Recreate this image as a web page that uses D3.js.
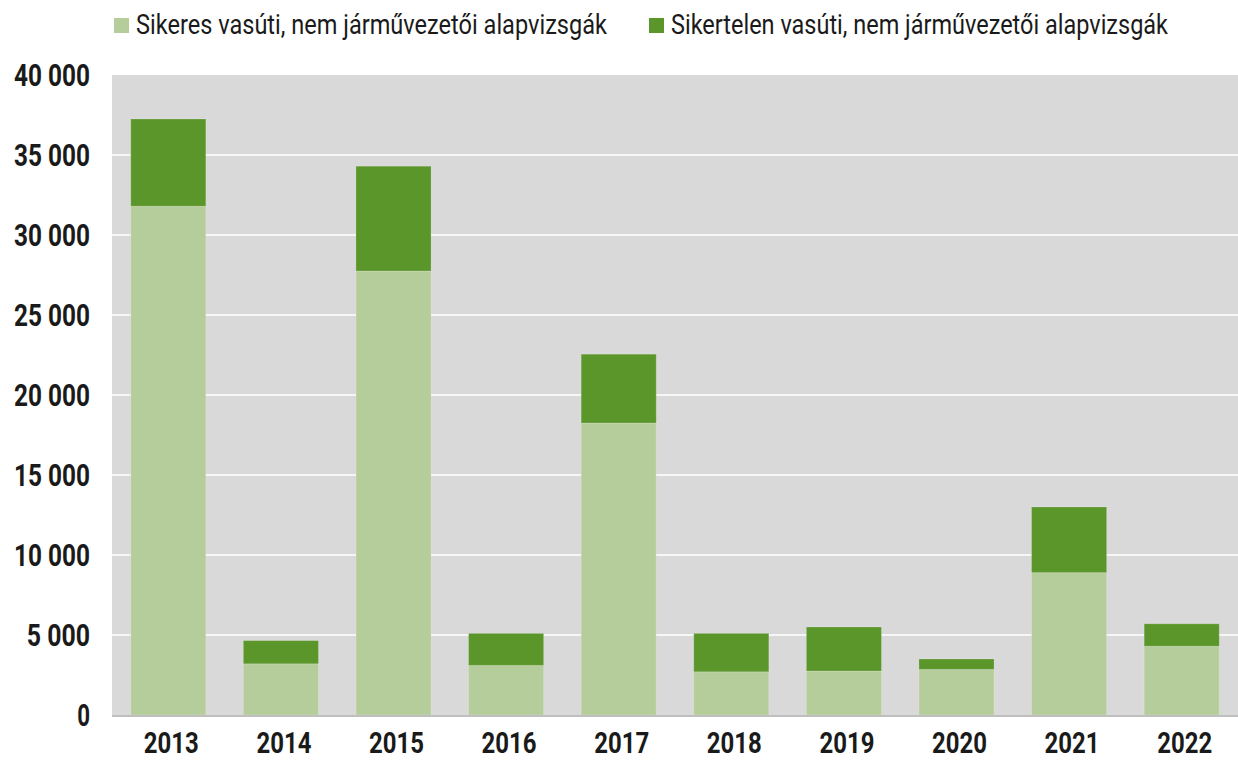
<!DOCTYPE html>
<html>
<head>
<meta charset="utf-8">
<script src="https://cdn.jsdelivr.net/npm/d3@7"></script>
<style>
  html, body { margin: 0; padding: 0; background: #ffffff; }
  svg { display: block; }
  text { font-family: "Roboto", "Liberation Sans", sans-serif; fill: #1a1a1a; }
</style>
</head>
<body>
<svg id="chart" width="1238" height="761"></svg>
<script>
// Railway non-driver basic exams, per year
const years = ["2013", "2014", "2015", "2016", "2017", "2018", "2019", "2020", "2021", "2022"];
const passed = [31800, 3200, 27750, 3100, 18250, 2700, 2750, 2850, 8900, 4300];
const failed = [5450, 1450, 6550, 2000, 4300, 2400, 2750, 650, 4100, 1400];
const seriesNames = ["Sikeres vasúti, nem járművezetői alapvizsgák", "Sikertelen vasúti, nem járművezetői alapvizsgák"];
const seriesColors = ["#b5cd9a", "#5b962b"];
const yTicks = [0, 5000, 10000, 15000, 20000, 25000, 30000, 35000, 40000];

const svg = d3.select("#chart");
const W = 1238, H = 761;
const margin = { left: 112, right: 0, top: 75, bottom: 46 };
const plotW = W - margin.left - margin.right;
const plotH = H - margin.top - margin.bottom;

const x = d3.scaleBand().domain(years).range([margin.left, margin.left + plotW])
  .paddingInner(1 / 3).paddingOuter(1 / 6);
const y = d3.scaleLinear().domain([0, 40000]).range([margin.top + plotH, margin.top]);

const fmt = v => d3.format(",")(v).replace(/,/g, " ");
// condensed face: squeeze glyphs to a narrow advance
const numWidth = s => s.split("").reduce((w, c) => w + (c === " " ? 12 : 12.8), 0);

// plot background
svg.append("rect")
  .attr("x", margin.left).attr("y", margin.top)
  .attr("width", plotW).attr("height", plotH)
  .attr("fill", "#d9d9d9");

// horizontal gridlines
svg.append("g")
  .selectAll("line")
  .data(yTicks.filter(d => d > 0 && d < 40000))
  .join("line")
  .attr("x1", margin.left).attr("x2", margin.left + plotW)
  .attr("y1", d => y(d)).attr("y2", d => y(d))
  .attr("stroke", "#ffffff").attr("stroke-width", 1.6);

// stacked bars
const rows = years.map((yr, i) => ({ year: yr, passed: passed[i], failed: failed[i] }));
const stack = d3.stack().keys(["passed", "failed"])(rows);

svg.append("g")
  .selectAll("g")
  .data(stack)
  .join("g")
  .attr("fill", (d, i) => seriesColors[i])
  .selectAll("rect")
  .data(d => d)
  .join("rect")
  .attr("x", d => x(d.data.year))
  .attr("width", x.bandwidth())
  .attr("y", d => y(d[1]))
  .attr("height", d => y(d[0]) - y(d[1]))
  .attr("stroke", "rgba(255,255,255,0.18)")
  .attr("stroke-width", 1);

// x-axis baseline
svg.append("line")
  .attr("x1", margin.left).attr("x2", margin.left + plotW)
  .attr("y1", y(0) + 1).attr("y2", y(0) + 1)
  .attr("stroke", "#bfbfbf").attr("stroke-width", 2);

// y tick labels
svg.append("g")
  .selectAll("text")
  .data(yTicks)
  .join("text")
  .attr("x", 90)
  .attr("y", d => y(d) + 11)
  .attr("text-anchor", "end")
  .attr("font-size", 31).attr("font-weight", "bold")
  .attr("textLength", d => numWidth(fmt(d)))
  .attr("lengthAdjust", "spacingAndGlyphs")
  .text(d => fmt(d));

// x tick labels
svg.append("g")
  .selectAll("text")
  .data(years)
  .join("text")
  .attr("x", d => x(d) + x.bandwidth() / 2 + 3)
  .attr("y", 753)
  .attr("text-anchor", "middle")
  .attr("font-size", 29).attr("font-weight", "bold")
  .attr("textLength", 55)
  .attr("lengthAdjust", "spacingAndGlyphs")
  .text(d => d);

// legend
const legendX = [114, 649];
const legendW = [471, 497];
const legend = svg.append("g")
  .selectAll("g")
  .data(seriesNames)
  .join("g")
  .attr("transform", (d, i) => `translate(${legendX[i]},18)`);
legend.append("rect")
  .attr("width", 15).attr("height", 15)
  .attr("fill", (d, i) => seriesColors[i]);
legend.append("text")
  .attr("transform", "translate(22,16) scale(1,1.12)")
  .attr("font-size", 25)
  .attr("textLength", (d, i) => legendW[i])
  .attr("lengthAdjust", "spacingAndGlyphs")
  .text(d => d);
</script>
</body>
</html>
